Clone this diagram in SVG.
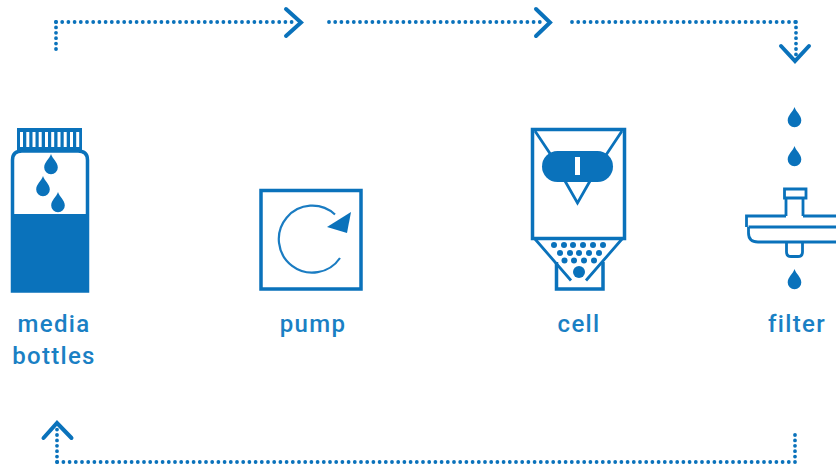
<svg xmlns="http://www.w3.org/2000/svg" width="836" height="469" viewBox="0 0 836 469">
<style>
.o{fill:none;stroke:#0a72bb;stroke-width:3.5}
.t{fill:none;stroke:#0a72bb;stroke-width:2.8}
.f{fill:#0a72bb}
.w{fill:#fff}
.dot{fill:none;stroke:#0a72bb;stroke-width:3.800;stroke-linecap:round;stroke-dasharray:0 6.200}
.dotv{fill:none;stroke:#0a72bb;stroke-width:3.800;stroke-linecap:round;stroke-dasharray:0 5.400}
.head{fill:none;stroke:#0a72bb;stroke-width:4;stroke-linecap:round;stroke-linejoin:miter}
text{font-family:"Roboto","Liberation Sans",sans-serif;font-size:24px;font-weight:500;letter-spacing:1.3px;fill:#1a80c4;text-anchor:middle}
</style>
<defs>
<path id="drop" class="f" d="M0 0C1.500 5 6.800 8 6.800 13.500A6.800 6.800 0 1 1 -6.800 13.500C-6.800 8 -1.500 5 0 0Z"/>
</defs>
<rect width="836" height="469" fill="#fff"/>
<g id="connectors">
<path class="dot" d="M56 22H297"/>
<path class="dotv" d="M56 22V52"/>
<path class="head" d="M286 9L301 22.500L286 36"/>
<path class="dot" d="M329 22H545"/>
<path class="head" d="M536 9L550 22.500L536 36"/>
<path class="dot" d="M572 22H796"/>
<path class="dotv" d="M796 22V56"/>
<path class="head" d="M781 46L795 61L809 46"/>
<path class="dot" d="M795 462H57"/>
<path class="dotv" d="M795 435V462"/>
<path class="dotv" d="M57 462V428"/>
<path class="head" d="M43.500 438L57 423L71.500 438"/>
</g>
<g id="media-bottles">
<rect class="f" x="17" y="128" width="65" height="22"/>
<g class="w">
<rect x="20" y="132" width="3" height="15"/><rect x="26.300" y="132" width="3" height="15"/><rect x="32.500" y="132" width="3" height="15"/><rect x="38.700" y="132" width="3" height="15"/><rect x="45" y="132" width="3" height="15"/><rect x="51.200" y="132" width="3" height="15"/><rect x="57.500" y="132" width="3" height="15"/><rect x="63.700" y="132" width="3" height="15"/><rect x="70" y="132" width="3" height="15"/><rect x="76.200" y="132" width="3" height="15"/>
</g>
<path class="w" d="M12.500 291V160Q12.500 151 22 151H78Q87.500 151 87.500 160V291Z"/>
<path class="o" d="M12.500 291V160Q12.500 151 22 151H78Q87.500 151 87.500 160V291Z"/>
<rect class="f" x="11" y="214" width="78" height="78"/>
<use href="#drop" x="51" y="154"/>
<use href="#drop" x="43" y="176"/>
<use href="#drop" x="58" y="192"/>
<text x="54" y="332">media</text>
<text x="54" y="364">bottles</text>
</g>
<g id="pump">
<rect class="o" x="261" y="190.500" width="100" height="98.500"/>
<path d="M340 258A33.500 33.500 0 1 1 335 214.500" fill="none" stroke="#1a7cc2" stroke-width="2.200"/>
<path class="f" d="M351 212L327 227L347 233Z"/>
<text x="313" y="332">pump</text>
</g>
<g id="cell">
<rect class="o" x="532.500" y="129.500" width="92" height="109"/>
<path class="t" d="M535 131L551 155M622 131L606 155"/>
<rect class="f" x="542" y="151" width="71" height="31" rx="15.500"/>
<rect class="w" x="575" y="157" width="5" height="18"/>
<path class="t" d="M565 181L577.500 203L590 181"/>
<path class="t" d="M535 239L571 280.500M622 239L586 280.500"/>
<path class="o" d="M556.500 262V289H603V262"/>
<g class="f">
<circle cx="554" cy="245" r="3"/><circle cx="564" cy="245" r="3"/><circle cx="573" cy="245" r="3"/><circle cx="583" cy="245" r="3"/><circle cx="593" cy="245" r="3"/><circle cx="603" cy="245" r="3"/>
<circle cx="560" cy="253" r="3"/><circle cx="570" cy="253" r="3"/><circle cx="579" cy="253" r="3"/><circle cx="589" cy="253" r="3"/><circle cx="599" cy="253" r="3"/>
<circle cx="564.500" cy="260.500" r="3"/><circle cx="574" cy="260.500" r="3"/><circle cx="584" cy="260.500" r="3"/><circle cx="594" cy="260.500" r="3"/>
<circle cx="579" cy="272" r="6"/>
</g>
<text x="579" y="332">cell</text>
</g>
<g id="filter">
<use href="#drop" x="794.500" y="107"/>
<use href="#drop" x="794.500" y="146"/>
<use href="#drop" x="794.500" y="269"/>
<path class="t" d="M784.500 198V189H806V198ZM786 198V216M803 198V216"/>
<path class="t" d="M836 216H803M786 216H746.500V227M748.500 227H836"/>
<path class="t" d="M748.500 227V233Q748.500 242 758 242H836"/>
<path class="t" d="M786.500 242V252Q786.500 256.500 791 256.500H798Q802.500 256.500 802.500 252V242"/>
<text x="797" y="332">filter</text>
</g>
</svg>
